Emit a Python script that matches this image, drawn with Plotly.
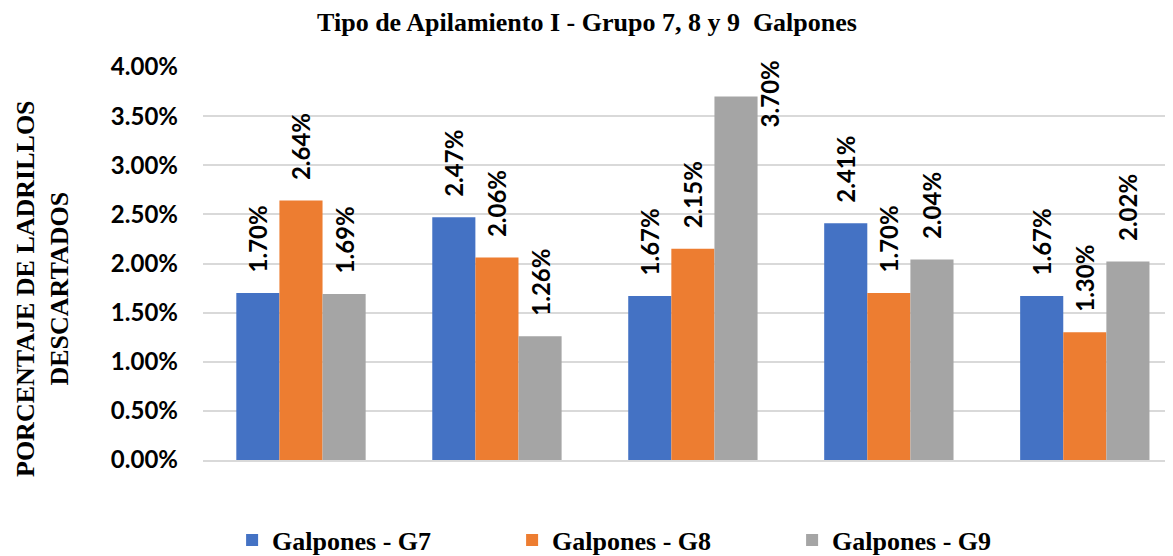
import plotly.graph_objects as go

categories = ["1", "2", "3", "4", "5"]
series_names = ["Galpones - G7", "Galpones - G8", "Galpones - G9"]
g7 = [0.0170, 0.0247, 0.0167, 0.0241, 0.0167]
g8 = [0.0264, 0.0206, 0.0215, 0.0170, 0.0130]
g9 = [0.0169, 0.0126, 0.0370, 0.0204, 0.0202]
colors = ["#4472C4", "#ED7D31", "#A5A5A5"]
tick_vals = [0, 0.005, 0.01, 0.015, 0.02, 0.025, 0.03, 0.035, 0.04]
y_max = 0.04

label_font = dict(family="Lato", size=24, color="black", weight="bold")
serif_font = dict(family="Liberation Serif", size=26, color="black")

fig = go.Figure()
for name, vals, col in zip(series_names, [g7, g8, g9], colors):
    # labels that would run past the top of the axis are drawn beside the bar instead
    positions = ["outside" if v < 0.034 else "none" for v in vals]
    fig.add_trace(go.Bar(
        x=categories, y=vals, name=name,
        marker=dict(color=col, line=dict(width=0)),
        texttemplate="\u00a0\u00a0\u00a0%{y:.2%}", textposition=positions, textangle=-90,
        textfont=label_font, constraintext="none",
        cliponaxis=False,
    ))
    for i, v in enumerate(vals):
        if v >= 0.034:
            fig.add_annotation(
                x=i, y=v, xref="x", yref="y", text="<b>%.2f%%</b>" % (v * 100),
                textangle=-90, showarrow=False, xanchor="center", yanchor="middle",
                xshift=77, yshift=3, font=label_font,
            )

W, H = 1165, 556
L, T, PW, PH = 195, 59, 970, 393
fig.update_layout(
    width=W, height=H,
    margin=dict(l=L, r=W - L - PW, t=T, b=H - T - PH),
    paper_bgcolor="white", plot_bgcolor="white",
    barmode="group", bargap=0.34, bargroupgap=0,
    title=dict(text="<b>Tipo de Apilamiento I - Grupo 7, 8 y 9  Galpones</b>",
               font=serif_font,
               x=(579 - L) / PW, xref="paper", xanchor="center",
               y=1 - 14 / H, yref="container", yanchor="middle"),
    xaxis=dict(showticklabels=False, showgrid=False, ticks="",
               range=[-0.5, 4.45],
               showline=True, linecolor="#d9d9d9", linewidth=2),
    yaxis=dict(range=[0, y_max], tickvals=tick_vals, tickformat=".2%",
               showgrid=True, gridcolor="#d9d9d9", gridwidth=2,
               zeroline=False, ticks="", ticklabelstandoff=24,
               tickfont=label_font),
    legend=dict(orientation="h", x=0.030, xanchor="left", y=-(532 - (T + PH)) / PH,
                yanchor="middle",
                font=dict(family="Liberation Serif", size=26, color="black", weight="bold"),
                entrywidth=235, itemwidth=30),
    showlegend=True,
)

fig.add_annotation(
    text="<b>PORCENTAJE DE LADRILLOS<br>DESCARTADOS</b>",
    xref="paper", yref="paper", x=(34 - L) / PW, y=1 - (281 - T) / PH,
    xanchor="center", yanchor="middle", textangle=-90, showarrow=False,
    font=serif_font,
)

fig.write_html("out.html")
